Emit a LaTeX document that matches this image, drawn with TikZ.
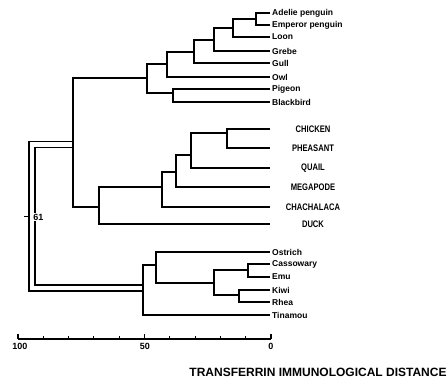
\documentclass[tikz,border=0pt]{standalone}
\usepackage{fontspec}
\setmainfont{Liberation Sans}
\newfontfamily\condfont[FakeStretch=0.8]{Liberation Sans}
\usetikzlibrary{calc}
\begin{document}
\begin{tikzpicture}[x=1pt,y=-1pt,
  br/.style={line width=1.8pt, line join=miter},
  rootbr/.style={line width=1.6pt, double, double distance=4.4pt, line join=miter},
  taxon/.style={anchor=west, inner sep=1pt, font=\fontsize{8.5}{9}\selectfont\bfseries},
  group/.style={inner sep=0pt, font=\condfont\fontsize{9.5}{10}\selectfont\bfseries},
  ticklab/.style={inner sep=0pt, font=\fontsize{9}{10}\selectfont\bfseries},
  axisline/.style={line width=1.4pt},
]
\useasboundingbox (0,0) rectangle (448,379);

% ---------- branch tips ----------
\foreach \n/\y in {adelie/13, emperor/25, loon/37, grebe/51, gull/63, owl/77,
                   pigeon/89, blackbird/102,
                   chicken/129, pheasant/148, quail/168, megapode/187,
                   chachalaca/207, duck/224,
                   ostrich/252, cassowary/264, emu/277, kiwi/290, rhea/302, tinamou/315}
  \coordinate (\n) at (270,\y);

% ---------- taxon names ----------
\node[taxon] (tAdelie)    at ([xshift=1pt]adelie)    {Adelie penguin};
\node[taxon] (tEmperor)   at ([xshift=1pt]emperor)   {Emperor penguin};
\node[taxon] (tLoon)      at ([xshift=1pt]loon)      {Loon};
\node[taxon] (tGrebe)     at ([xshift=1pt]grebe)     {Grebe};
\node[taxon] (tGull)      at ([xshift=1pt]gull)      {Gull};
\node[taxon] (tOwl)       at ([xshift=1pt]owl)       {Owl};
\node[taxon] (tPigeon)    at ([xshift=1pt]pigeon)    {Pigeon};
\node[taxon] (tBlackbird) at ([xshift=1pt]blackbird) {Blackbird};

\node[group] (tChicken)    at (313,129) {CHICKEN};
\node[group] (tPheasant)   at (313,148) {PHEASANT};
\node[group] (tQuail)      at (313,168) {QUAIL};
\node[group] (tMegapode)   at (313,187) {MEGAPODE};
\node[group] (tChachalaca) at (313,207) {CHACHALACA};
\node[group] (tDuck)       at (313,224) {DUCK};

\node[taxon] (tOstrich)   at ([xshift=1pt]ostrich)   {Ostrich};
\node[taxon] (tCassowary) at ([xshift=1pt]cassowary) {Cassowary};
\node[taxon] (tEmu)       at ([xshift=1pt]emu)       {Emu};
\node[taxon] (tKiwi)      at ([xshift=1pt]kiwi)      {Kiwi};
\node[taxon] (tRhea)      at ([xshift=1pt]rhea)      {Rhea};
\node[taxon] (tTinamou)   at ([xshift=1pt]tinamou)   {Tinamou};

% ---------- internal nodes ----------
\coordinate (pen)   at (256,19);
\coordinate (pl)    at (233,28);
\coordinate (plg)   at (214,40);
\coordinate (plgg)  at (194,52);
\coordinate (plggo) at (167,64);
\coordinate (pb)    at (173,93);
\coordinate (up)    at (147,78);
\coordinate (neo)   at (73,144.5);

\coordinate (cp)    at (227,133);
\coordinate (cpq)   at (191,155);
\coordinate (cpqm)  at (176,172);
\coordinate (gf)    at (162,187);
\coordinate (gal)   at (99,207);

\coordinate (ce)    at (248,270);
\coordinate (kr)    at (239,295);
\coordinate (ckr)   at (214,283);
\coordinate (os)    at (156,265);
\coordinate (rat)   at (143,288);

\coordinate (root)  at (32,217);

% ---------- root (double line) ----------
\draw[rootbr] (neo) -| (root) |- (rat);
\node[ticklab, fill=white, inner sep=0.6pt] (lab61) at (38.5,217) {61};
\draw[line width=1pt] (24,217) -- (root -| 29,0);

% ---------- upper group ----------
\draw[br] (adelie) -| (pen) |- (emperor);
\draw[br] (pen) -| (pl) |- (loon);
\draw[br] (pl) -| (plg) |- (grebe);
\draw[br] (plg) -| (plgg) |- (gull);
\draw[br] (plgg) -| (plggo) |- (owl);
\draw[br] (pigeon) -| (pb) |- (blackbird);
\draw[br] (plggo) -| (up) |- (pb);
\draw[br] (up) -| (neo) |- (gal);

% ---------- galliforms and duck ----------
\draw[br] (chicken) -| (cp) |- (pheasant);
\draw[br] (cp) -| (cpq) |- (quail);
\draw[br] (cpq) -| (cpqm) |- (megapode);
\draw[br] (cpqm) -| (gf) |- (chachalaca);
\draw[br] (gf) -| (gal) |- (duck);

% ---------- ratites and tinamou ----------
\draw[br] (cassowary) -| (ce) |- (emu);
\draw[br] (kiwi) -| (kr) |- (rhea);
\draw[br] (ce) -| (ckr) |- (kr);
\draw[br] (ostrich) -| (os) |- (ckr);
\draw[br] (os) -| (rat) |- (tinamou);

% ---------- distance scale ----------
\coordinate (ax100) at (18,339);
\coordinate (ax0)   at (271,339);
\draw[axisline] (ax100) -- (ax0);
\foreach \i in {1,2,3,4,6,7,8,9}
  \draw[line width=1.1pt] ($(ax100)!\i/10!(ax0)$) -- ++(0,-2.5);
\foreach \i in {0,5,10}
  \draw[line width=1.1pt] ($(ax100)!\i/10!(ax0)$) -- ++(0,-4.5);
\node[ticklab] (l100) at (20,346) {100};
\node[ticklab] (l50)  at (145,346) {50};
\node[ticklab] (l0)   at (271,346) {0};

\node[inner sep=0pt, font=\fontsize{12}{13}\selectfont\bfseries] (title) at (318,372)
  {TRANSFERRIN IMMUNOLOGICAL DISTANCE};
\end{tikzpicture}
\end{document}
